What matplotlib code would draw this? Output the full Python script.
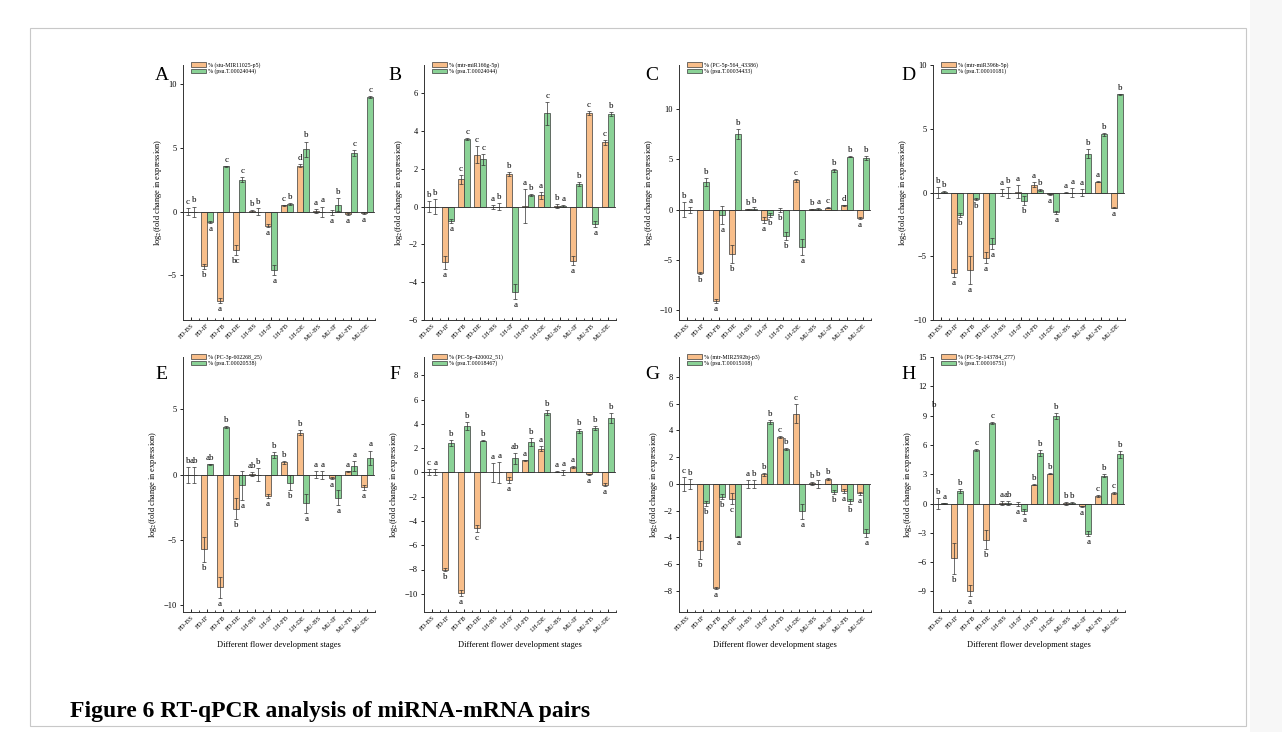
import matplotlib
matplotlib.use("Agg")
import matplotlib.pyplot as plt
from matplotlib.patches import Rectangle
import numpy as np

plt.rcParams['font.family'] = ['Liberation Serif', 'DejaVu Serif']
plt.rcParams['mathtext.fontset'] = 'stix'

stages = ["FD-BS", "FD-IF", "FD-FB", "FD-DE", "LH-BS", "LH-IF", "LH-FB", "LH-DE",
          "MU-BS", "MU-IF", "MU-FB", "MU-DE"]

# ---------------- Panel A ----------------
A_names = ["% (stu-MIR11025-p5)", "% (psu.T.00024044)"]
A_mirna = [0.0, -4.3, -7.0, -3.0, 0.05, -1.1, 0.5, 3.6, 0.05, -0.05, -0.2, -0.1]
A_mirna_err = [0.3, 0.2, 0.2, 0.4, 0.1, 0.1, 0.05, 0.1, 0.15, 0.2, 0.1, 0.1]
A_mrna = [0.0, -0.8, 3.55, 2.5, 0.0, -4.6, 0.6, 4.9, 0.0, 0.55, 4.6, 9.0]
A_mrna_err = [0.4, 0.1, 0.05, 0.2, 0.3, 0.4, 0.05, 0.6, 0.4, 0.5, 0.2, 0.1]
A_mirna_sig = ["c", "b", "a", "bc", "b", "a", "c", "d", "a", "a", "a", "a"]
A_mrna_sig = ["b", "a", "c", "c", "b", "a", "b", "b", "a", "b", "c", "c"]
A_ylim = (-8.5, 11.5)
A_yticks = [-5, 0, 5, 10]

# ---------------- Panel B ----------------
B_names = ["% (mtr-miR166g-5p)", "% (psu.T.00024044)"]
B_mirna = [0.0, -2.95, 1.45, 2.75, 0.0, 1.72, 0.05, 0.6, 0.05, -2.85, 4.95, 3.4]
B_mirna_err = [0.3, 0.35, 0.25, 0.45, 0.1, 0.1, 0.9, 0.2, 0.1, 0.25, 0.1, 0.15]
B_mrna = [0.0, -0.75, 3.6, 2.5, 0.0, -4.5, 0.6, 4.95, 0.02, 1.2, -0.9, 4.9]
B_mrna_err = [0.4, 0.1, 0.05, 0.3, 0.2, 0.4, 0.05, 0.6, 0.05, 0.1, 0.15, 0.1]
B_mirna_sig = ["b", "a", "c", "c", "a", "b", "a", "a", "b", "a", "c", "c"]
B_mrna_sig = ["b", "a", "c", "c", "b", "a", "b", "c", "a", "b", "a", "b"]
B_ylim = (-6, 7.5)
B_yticks = [-6, -4, -2, 0, 2, 4, 6]

# ---------------- Panel C ----------------
C_names = ["% (PC-5p-564_43386)", "% (psu.T.00034433)"]
C_mirna = [0.0, -6.3, -9.1, -4.4, 0.05, -1.0, -0.02, 2.9, 0.05, 0.2, 0.45, -0.8]
C_mirna_err = [0.75, 0.1, 0.2, 0.9, 0.05, 0.3, 0.2, 0.15, 0.05, 0.05, 0.05, 0.1]
C_mrna = [0.0, 2.7, -0.5, 7.5, 0.1, -0.5, -2.6, -3.7, 0.05, 3.9, 5.25, 5.15]
C_mrna_err = [0.3, 0.4, 0.9, 0.5, 0.15, 0.2, 0.4, 0.8, 0.1, 0.15, 0.05, 0.2]
C_mirna_sig = ["b", "b", "a", "b", "b", "a", "b", "c", "b", "c", "d", "a"]
C_mrna_sig = ["a", "b", "a", "b", "b", "b", "b", "a", "a", "b", "b", "b"]
C_ylim = (-11, 14.4)
C_yticks = [-10, -5, 0, 5, 10]

# ---------------- Panel D ----------------
D_names = ["% (mtr-miR396b-5p)", "% (psu.T.00010181)"]
D_mirna = [0.0, -6.3, -6.1, -5.1, 0.0, 0.05, 0.6, -0.15, 0.0, 0.0, 0.85, -1.2]
D_mirna_err = [0.4, 0.3, 1.1, 0.4, 0.3, 0.5, 0.2, 0.05, 0.02, 0.3, 0.05, 0.05]
D_mrna = [0.05, -1.75, -0.5, -4.0, 0.0, -0.65, 0.2, -1.55, 0.0, 3.05, 4.55, 7.7]
D_mrna_err = [0.1, 0.15, 0.1, 0.4, 0.4, 0.35, 0.1, 0.1, 0.35, 0.35, 0.15, 0.05]
D_mirna_sig = ["b", "a", "a", "a", "a", "a", "a", "a", "a", "a", "a", "a"]
D_mrna_sig = ["b", "b", "b", "a", "b", "b", "b", "a", "a", "b", "b", "b"]
D_ylim = (-10, 10)
D_yticks = [-10, -5, 0, 5, 10]

# ---------------- Panel E ----------------
E_names = ["% (PC-3p-602268_25)", "% (psu.T.00020538)"]
E_mirna = [0.0, -5.7, -8.6, -2.6, 0.05, -1.65, 0.95, 3.2, 0.0, -0.25, 0.25, -0.95]
E_mirna_err = [0.6, 0.95, 0.8, 0.8, 0.15, 0.15, 0.1, 0.2, 0.25, 0.1, 0.05, 0.2]
E_mrna = [0.0, 0.8, 3.65, -0.8, 0.0, 1.5, -0.6, -2.2, 0.0, -1.75, 0.65, 1.3]
E_mrna_err = [0.6, 0.05, 0.05, 1.1, 0.5, 0.2, 0.6, 0.7, 0.3, 0.55, 0.4, 0.55]
E_mirna_sig = ["b", "b", "a", "b", "ab", "a", "b", "b", "a", "a", "a", "a"]
E_mrna_sig = ["ab", "ab", "b", "a", "b", "b", "b", "a", "a", "a", "a", "a"]
E_ylim = (-10.5, 9)
E_yticks = [-10, -5, 0, 5]

# ---------------- Panel F ----------------
F_names = ["% (PC-5p-420002_51)", "% (psu.T.00018467)"]
F_mirna = [0.0, -8.0, -9.9, -4.6, 0.0, -0.6, 1.0, 1.95, 0.05, 0.45, -0.15, -1.0]
F_mirna_err = [0.25, 0.1, 0.25, 0.3, 0.8, 0.25, 0.05, 0.2, 0.05, 0.1, 0.05, 0.1]
F_mrna = [0.0, 2.45, 3.8, 2.6, 0.0, 1.15, 2.5, 4.9, 0.0, 3.4, 3.65, 4.45]
F_mrna_err = [0.25, 0.25, 0.35, 0.05, 0.85, 0.45, 0.35, 0.2, 0.2, 0.15, 0.2, 0.4]
F_mirna_sig = ["c", "b", "a", "c", "a", "a", "a", "a", "a", "a", "a", "a"]
F_mrna_sig = ["a", "b", "b", "b", "a", "ab", "b", "b", "a", "b", "b", "b"]
F_ylim = (-11.5, 9.5)
F_yticks = [-10, -8, -6, -4, -2, 0, 2, 4, 6, 8]

# ---------------- Panel G ----------------
G_names = ["% (mtr-MIR2592bj-p3)", "% (psu.T.00015108)"]
G_mirna = [0.0, -4.95, -7.8, -1.1, 0.0, 0.7, 3.5, 5.25, 0.05, 0.35, -0.5, -0.7]
G_mirna_err = [0.5, 0.7, 0.05, 0.4, 0.3, 0.1, 0.1, 0.7, 0.1, 0.1, 0.15, 0.1]
G_mrna = [0.0, -1.45, -0.95, -3.95, 0.0, 4.65, 2.6, -2.05, 0.0, -0.6, -1.3, -3.7]
G_mrna_err = [0.35, 0.2, 0.2, 0.05, 0.3, 0.15, 0.05, 0.55, 0.3, 0.15, 0.2, 0.3]
G_mirna_sig = ["c", "b", "a", "c", "a", "b", "c", "c", "b", "b", "a", "a"]
G_mrna_sig = ["b", "b", "b", "a", "b", "b", "b", "a", "b", "b", "b", "a"]
G_ylim = (-9.6, 9.5)
G_yticks = [-8, -6, -4, -2, 0, 2, 4, 6, 8]

# ---------------- Panel H ----------------
H_names = ["% (PC-5p-143784_277)", "% (psu.T.00016751)"]
H_mirna = [0.0, -5.6, -8.9, -3.7, 0.05, -0.02, 1.95, 3.05, 0.05, -0.3, 0.8, 1.1]
H_mirna_err = [0.6, 1.6, 0.6, 0.95, 0.2, 0.2, 0.05, 0.05, 0.15, 0.1, 0.1, 0.1]
H_mrna = [0.05, 1.3, 5.5, 8.2, 0.05, -0.8, 5.15, 9.0, 0.05, -3.1, 2.85, 5.05]
H_mrna_err = [0.05, 0.2, 0.1, 0.1, 0.2, 0.25, 0.3, 0.3, 0.1, 0.25, 0.15, 0.35]
H_mirna_sig = ["b", "b", "a", "b", "a", "a", "b", "b", "b", "a", "c", "c"]
H_mrna_sig = ["a", "b", "c", "c", "ab", "a", "b", "b", "b", "a", "b", "b"]
H_ylim = (-11.1, 15)
H_yticks = [-9, -6, -3, 0, 3, 6, 9, 12, 15]
H_stray_label = ("b", 10.1)

panels = [
    ("A", A_names, A_mirna, A_mirna_err, A_mrna, A_mrna_err, A_mirna_sig, A_mrna_sig, A_ylim, A_yticks),
    ("B", B_names, B_mirna, B_mirna_err, B_mrna, B_mrna_err, B_mirna_sig, B_mrna_sig, B_ylim, B_yticks),
    ("C", C_names, C_mirna, C_mirna_err, C_mrna, C_mrna_err, C_mirna_sig, C_mrna_sig, C_ylim, C_yticks),
    ("D", D_names, D_mirna, D_mirna_err, D_mrna, D_mrna_err, D_mirna_sig, D_mrna_sig, D_ylim, D_yticks),
    ("E", E_names, E_mirna, E_mirna_err, E_mrna, E_mrna_err, E_mirna_sig, E_mrna_sig, E_ylim, E_yticks),
    ("F", F_names, F_mirna, F_mirna_err, F_mrna, F_mrna_err, F_mirna_sig, F_mrna_sig, F_ylim, F_yticks),
    ("G", G_names, G_mirna, G_mirna_err, G_mrna, G_mrna_err, G_mirna_sig, G_mrna_sig, G_ylim, G_yticks),
    ("H", H_names, H_mirna, H_mirna_err, H_mrna, H_mrna_err, H_mirna_sig, H_mrna_sig, H_ylim, H_yticks),
]

ORANGE = "#F8BE8A"
GREEN = "#8AD296"
EDGE = "#3a3a3a"

W, Hh = 1282, 732
fig = plt.figure(figsize=(W / 100, Hh / 100), dpi=100)
fig.patch.set_facecolor("white")

# outer frame
fig.add_artist(Rectangle((30 / W, 1 - 726 / Hh), (1246 - 30) / W, (726 - 28) / Hh,
                         transform=fig.transFigure, fill=False, edgecolor="#c8c8c8", lw=0.8))
fig.add_artist(Rectangle((1250 / W, 0), 32 / W, 1, transform=fig.transFigure,
                         facecolor="#f7f7f7", edgecolor="none"))

lefts = [183, 424, 679, 933]
row_top = [65, 357]
row_bot = [320, 612]
ax_w = 192
letter_dx = [-0.11, -0.15, -0.14, -0.13]
letter_y = [0.96, 0.93]

x = np.arange(len(stages))
bw = 0.4

for idx, (letter, names, mi, mie, mr, mre, mis, mrs, ylim, yticks) in enumerate(panels):
    r, c = divmod(idx, 4)
    l = lefts[c]
    ax = fig.add_axes([l / W, 1 - row_bot[r] / Hh, ax_w / W, (row_bot[r] - row_top[r]) / Hh])
    ekw = dict(elinewidth=0.5, capsize=1.3, capthick=0.5, ecolor="#333333")
    ax.bar(x - bw / 2, mi, bw, yerr=mie, color=ORANGE, edgecolor=EDGE, linewidth=0.5,
           error_kw=ekw, label=names[0], zorder=2)
    ax.bar(x + bw / 2, mr, bw, yerr=mre, color=GREEN, edgecolor=EDGE, linewidth=0.5,
           error_kw=ekw, label=names[1], zorder=2)
    ax.axhline(0, color="#333333", lw=0.6, zorder=3)
    ax.set_xlim(-0.5, len(stages) - 0.5)
    ax.set_ylim(*ylim)
    rng = ylim[1] - ylim[0]
    off = 0.008 * rng
    for xs, vals, errs, sigs in ((x - bw / 2, mi, mie, mis), (x + bw / 2, mr, mre, mrs)):
        for xi, v, e, s in zip(xs, vals, errs, sigs):
            if v >= 0:
                ax.text(xi, v + e + off, s, ha="center", va="bottom", fontsize=6.5)
            else:
                ax.text(xi, v - e - off, s, ha="center", va="top", fontsize=6.5)
    if letter == "H":
        ax.text(-0.45, H_stray_label[1], H_stray_label[0], ha="center", va="center", fontsize=6.5)
    for sp in ("top", "right"):
        ax.spines[sp].set_visible(False)
    for sp in ("left", "bottom"):
        ax.spines[sp].set_linewidth(0.7)
        ax.spines[sp].set_color("#333333")
    ax.set_yticks(yticks)
    ax.set_xticks(x)
    ax.set_xticks(x + 0.5, minor=True)
    ax.set_xticklabels(stages, rotation=45, ha="right", rotation_mode="anchor", fontsize=4.8)
    ax.tick_params(axis="x", which="major", direction="in", length=2.5, width=0.6, pad=2)
    ax.tick_params(axis="x", which="minor", direction="in", length=1.5, width=0.5)
    ax.tick_params(axis="y", which="major", direction="out", length=2.5, width=0.6,
                   labelsize=6, pad=2)
    ax.set_ylabel(r"log$_2$(fold change in expression)", fontsize=6, labelpad=3)
    if r == 1:
        ax.set_xlabel("Different flower development stages", fontsize=6, labelpad=5)
    ax.legend(loc="upper left", bbox_to_anchor=(0.03, 1.02), fontsize=4.2, frameon=False,
              handlelength=2.6, handleheight=0.9, borderaxespad=0, labelspacing=0.1,
              handletextpad=0.3)
    ax.text(letter_dx[c], letter_y[r], letter, transform=ax.transAxes, fontsize=14,
            ha="center", va="center")

fig.text(70 / W, 1 - 712 / Hh, "Figure 6 RT-qPCR analysis of miRNA-mRNA pairs",
         fontsize=17, fontweight="bold", ha="left", va="center", color="black")

fig.savefig("out.png", dpi=100, facecolor="white")
